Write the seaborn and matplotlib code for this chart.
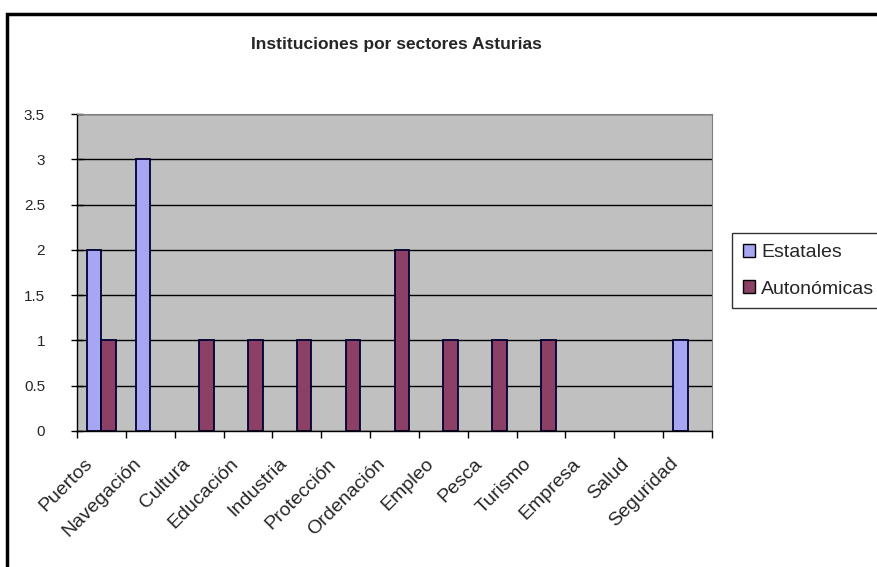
#Instituciones por sectores - Asturias
import pandas as pd
import seaborn as sns
from matplotlib import pyplot as plt
from matplotlib.patches import Rectangle
from matplotlib.ticker import FixedLocator
from matplotlib.transforms import ScaledTranslation

sectores = ['Puertos', 'Navegación', 'Cultura', 'Educación', 'Industria', 'Protección',
            'Ordenación', 'Empleo', 'Pesca', 'Turismo', 'Empresa', 'Salud', 'Seguridad']
estatales = [2, 3, 0, 0, 0, 0, 0, 0, 0, 0, 0, 0, 1]
autonomicas = [1, 0, 1, 1, 1, 1, 2, 1, 1, 1, 0, 0, 0]
yticks = [0, 0.5, 1, 1.5, 2, 2.5, 3, 3.5]
ylabels = ['0', '0.5', '1', '1.5', '2', '2.5', '3', '3.5']

#long format table for seaborn
df = pd.DataFrame({
    'sector': sectores * 2,
    'valor': estatales + autonomicas,
    'tipo': ['Estatales'] * len(sectores) + ['Autonómicas'] * len(sectores),
})

sns.set_style('white')
plt.rcParams['font.family'] = ['Liberation Sans', 'DejaVu Sans']

fig = plt.figure(figsize=(8.77, 5.67), dpi=100)
ax = fig.add_axes([77/877, 1-431/567, (712-77)/877, (431-114)/567])
ax.set_facecolor('#C0C0C0')

sns.barplot(data=df, x='sector', y='valor', hue='tipo', order=sectores,
            palette={'Estatales': '#9999FF', 'Autonómicas': '#993366'},
            width=0.6, edgecolor='#000033', linewidth=1.3, ax=ax, legend=True)

#no outline for empty bars
for p in ax.patches:
    if p.get_height() == 0:
        p.set_linewidth(0)

ax.set_ylim(0, 3.5)
ax.set_xlim(-0.5, len(sectores) - 0.5)
ax.set_yticks(yticks)
ax.set_yticklabels(ylabels)
ax.grid(axis='y', color='black', linewidth=1)
ax.set_axisbelow(True)
ax.set_xlabel('')
ax.set_ylabel('')

for s in ['top', 'right']:
    ax.spines[s].set_color('#808080')
for s in ['left', 'bottom']:
    ax.spines[s].set_color('black')
    ax.spines[s].set_linewidth(1)

#ticks between categories like excel
ax.xaxis.set_minor_locator(FixedLocator([i - 0.5 for i in range(len(sectores) + 1)]))
ax.tick_params(axis='both', which='both', bottom=True, left=True)
ax.tick_params(axis='x', which='major', length=0, pad=0)
ax.tick_params(axis='x', which='minor', length=5, width=1, color='black', direction='out')
ax.tick_params(axis='y', length=8, width=1, color='black', direction='inout', pad=19)
shift = ScaledTranslation(-12/100, -30/100, fig.dpi_scale_trans)
for lab in ax.get_xticklabels():
    lab.set_rotation(45)
    lab.set_ha('right')
    lab.set_va('center')
    lab.set_rotation_mode('anchor')
    lab.set_fontsize(14)
    lab.set_transform(lab.get_transform() + shift)
plt.setp(ax.get_yticklabels(), fontsize=11)

leg = ax.legend(title=None, loc='upper left', bbox_to_anchor=(732/877, 1-233/567),
                bbox_transform=fig.transFigure, fontsize=14, frameon=True, fancybox=False,
                edgecolor='black', handlelength=0.65, handleheight=0.65, handletextpad=0.3,
                borderpad=0.55, labelspacing=1.0, borderaxespad=0)
leg.get_frame().set_linewidth(1)
for h in leg.get_patches():
    h.set_edgecolor('black')
    h.set_linewidth(1)

fig.suptitle('Instituciones por sectores Asturias', x=396/877, y=1-44/567, va='center',
             fontsize=12.5, fontweight='bold')

#outer chart border
fig.patches.append(Rectangle((7/877, -0.1), 1.2, 1-14/567+0.1, transform=fig.transFigure,
                             fill=False, edgecolor='black', linewidth=2.5))

plt.savefig('out.png', dpi=100)
